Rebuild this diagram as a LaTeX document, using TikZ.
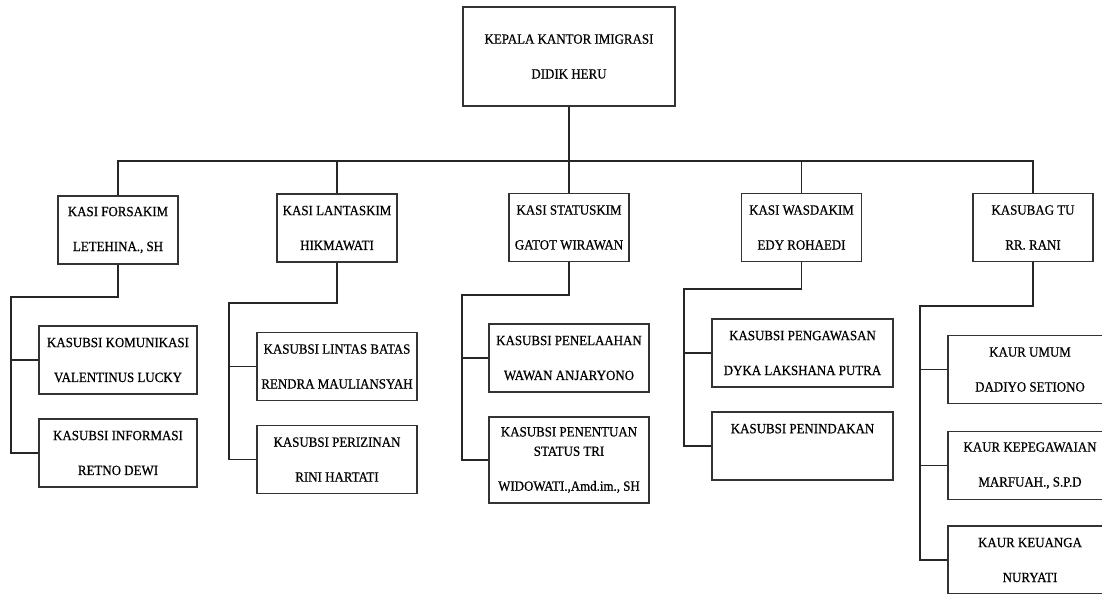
\documentclass[tikz,border=0pt]{standalone}
\usepackage{fontspec}
\setmainfont[FakeStretch=0.92,FakeBold=0.6]{Liberation Serif}
\tikzset{
    unit/.style={draw=black!80, line width=1.1pt, fill=white, align=center,
        inner sep=0pt, font=\fontsize{10}{24.8}\selectfont},
    kasi/.style={unit, minimum width=3cm, minimum height=1.7cm},
    sub/.style={unit, minimum width=4cm, minimum height=1.7cm},
    link/.style={draw=black!85, line width=1.2pt}
}
\begin{document}
\begin{tikzpicture}[x=0.025cm,y=-0.025cm]
    \clip (0,0) rectangle (1102,593);
    %% head of office
    \node[unit, minimum width=5.3cm, minimum height=2.475cm] (kepala) at (569,56.5)
        {KEPALA KANTOR IMIGRASI\\DIDIK HERU};
    %% section heads
    \node[kasi] (forsakim)  at (118,230)   {KASI FORSAKIM\\LETEHINA., SH};
    \node[kasi] (lantaskim) at (337,228)   {KASI LANTASKIM\\HIKMAWATI};
    \node[kasi] (statuskim) at (569,227.5) {KASI STATUSKIM\\GATOT WIRAWAN};
    \node[kasi] (wasdakim)  at (801.5,227.5) {KASI WASDAKIM\\EDY ROHAEDI};
    \node[kasi] (kasubag)   at (1033,227.5) {KASUBAG TU\\RR. RANI};
    %% sub sections
    \node[sub, minimum width=3.95cm] (komunikasi) at (118,360) {KASUBSI KOMUNIKASI\\VALENTINUS LUCKY};
    \node[sub, minimum width=3.95cm] (informasi)  at (118,453) {KASUBSI INFORMASI\\RETNO DEWI};
    \node[sub] (lintas)     at (337,366.5) {KASUBSI LINTAS BATAS\\RENDRA MAULIANSYAH};
    \node[sub] (perizinan)  at (337,459.5) {KASUBSI PERIZINAN\\RINI HARTATI};
    \node[sub] (penelaahan) at (569,358) {KASUBSI PENELAAHAN\\WAWAN ANJARYONO};
    \node[sub, minimum height=2.15cm] (penentuan) at (569,460)
        {KASUBSI PENENTUAN\\[-11pt]STATUS TRI\\WIDOWATI.,Amd.im., SH};
    \node[sub, minimum width=4.525cm] (pengawasan) at (802.5,353) {KASUBSI PENGAWASAN\\DYKA LAKSHANA PUTRA};
    \node[sub, minimum width=4.525cm] (penindakan) at (802.5,446) {KASUBSI PENINDAKAN\\~};
    \node[sub, minimum width=4.1cm] (umum)        at (1030,369.5) {KAUR UMUM\\DADIYO SETIONO};
    \node[sub, minimum width=4.1cm] (kepegawaian) at (1030,465.5) {KAUR KEPEGAWAIAN\\MARFUAH., S.P.D};
    \node[sub, minimum width=4.1cm] (keuangan)    at (1030,560)   {KAUR KEUANGA\\NURYATI};
    %% top bus
    \coordinate (bus) at (569,161);
    \draw[link] (kepala.south) -- (statuskim.north);
    \draw[link] (forsakim.north) |- (bus) -| (kasubag.north);
    \foreach \n in {lantaskim,wasdakim}
        \draw[link] (\n.north) -- (\n.north |- bus);
    %% elbows to sub sections
    \coordinate (fk) at (11,297);
    \coordinate (lk) at (229,303);
    \coordinate (sk) at (462,295);
    \coordinate (wk) at (684,289);
    \coordinate (tk) at (920,306);
    \draw[link] (forsakim.south) |- (fk) |- (informasi.west);
    \draw[link] (fk |- komunikasi.west) -- (komunikasi.west);
    \draw[link] (lantaskim.south) |- (lk) |- (perizinan.west);
    \draw[link] (lk |- lintas.west) -- (lintas.west);
    \draw[link] (statuskim.south) |- (sk) |- (penentuan.west);
    \draw[link] (sk |- penelaahan.west) -- (penelaahan.west);
    \draw[link] (wasdakim.south) |- (wk) |- (penindakan.west);
    \draw[link] (wk |- pengawasan.west) -- (pengawasan.west);
    \draw[link] (kasubag.south) |- (tk) |- (keuangan.west);
    \foreach \n in {umum,kepegawaian}
        \draw[link] (tk |- \n.west) -- (\n.west);
\end{tikzpicture}
\end{document}
